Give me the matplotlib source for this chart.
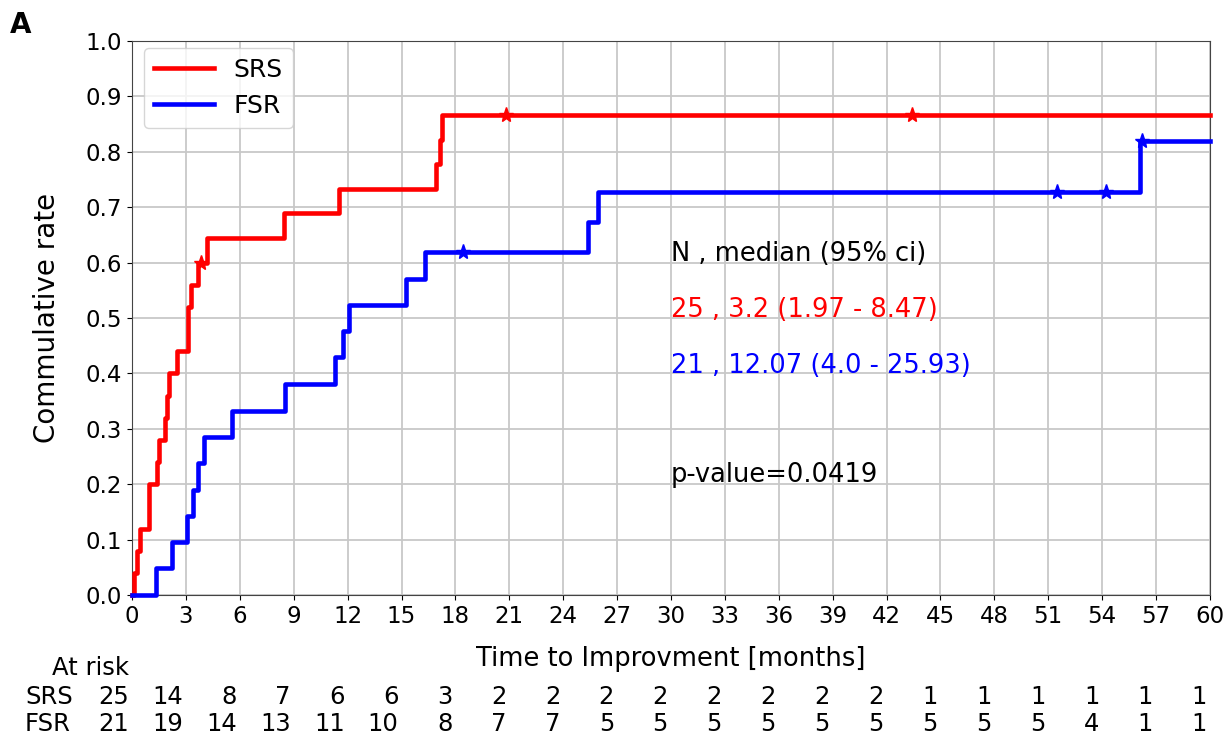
import matplotlib
matplotlib.use("Agg")
from matplotlib import pyplot as plt
from matplotlib import transforms

# Kaplan-Meier style cumulative curves (step, post)
srs_time = [0, 0.11, 0.26, 0.43, 0.93, 1.40, 1.51, 1.82, 1.97, 2.07, 2.48,
            3.1, 3.3, 3.65, 4.15, 8.47, 11.5, 16.9, 17.14, 17.27, 60]
srs_rate = [0, 0.04, 0.08, 0.12, 0.20, 0.24, 0.28, 0.32, 0.36, 0.40, 0.44,
            0.52, 0.56, 0.60, 0.644, 0.689, 0.733, 0.778, 0.822, 0.867, 0.867]
srs_cens_time = [3.84, 20.8, 43.4]
srs_cens_rate = [0.60, 0.867, 0.867]

fsr_time = [0, 1.36, 2.2, 3.04, 3.41, 3.65, 4.0, 5.59, 8.5, 11.3, 11.74,
            12.07, 15.23, 16.3, 25.4, 25.93, 56.1, 60]
fsr_rate = [0, 0.048, 0.095, 0.143, 0.190, 0.238, 0.286, 0.333, 0.381, 0.429,
            0.476, 0.524, 0.571, 0.619, 0.673, 0.728, 0.819, 0.819]
fsr_cens_time = [18.44, 51.5, 54.2, 56.2]
fsr_cens_rate = [0.619, 0.728, 0.728, 0.819]

risk_ticks = list(range(0, 61, 3))
srs_at_risk = [25, 14, 8, 7, 6, 6, 3, 2, 2, 2, 2, 2, 2, 2, 2, 1, 1, 1, 1, 1, 1]
fsr_at_risk = [21, 19, 14, 13, 11, 10, 8, 7, 7, 5, 5, 5, 5, 5, 5, 5, 5, 5, 4, 1, 1]

stats_lines = [("N , median (95% ci)", "black", 0.616),
               ("25 , 3.2 (1.97 - 8.47)", "red", 0.514),
               ("21 , 12.07 (4.0 - 25.93)", "blue", 0.413),
               ("p-value=0.0419", "black", 0.217)]

fig = plt.figure(figsize=(12.3, 7.37), dpi=100)
ax = fig.add_axes([132 / 1230, 1 - 595 / 737, 1078 / 1230, 554 / 737])

ax.step(srs_time, srs_rate, where="post", color="red", lw=3.3, label="SRS", clip_on=False, zorder=3)
ax.step(fsr_time, fsr_rate, where="post", color="blue", lw=3.3, label="FSR", clip_on=False, zorder=3)
ax.plot(srs_cens_time, srs_cens_rate, ls="none", marker="*", ms=11, color="red", zorder=4)
ax.plot(fsr_cens_time, fsr_cens_rate, ls="none", marker="*", ms=11, color="blue", zorder=4)

ax.set_xlim(0, 60)
ax.set_ylim(0, 1.0)
ax.set_xticks(risk_ticks)
ax.set_yticks([i / 10 for i in range(11)])
ax.set_yticklabels([f"{i / 10:.1f}" for i in range(11)])
ax.tick_params(labelsize=16.5)
ax.grid(True, color="#c8c8c8", lw=1.3)
ax.set_axisbelow(True)
for s in ax.spines.values():
    s.set_color("#444444")

ax.set_ylabel("Commulative rate", fontsize=20, labelpad=18)
ax.set_xlabel("Time to Improvment [months]", fontsize=18.5, labelpad=13)
ax.legend(loc="upper left", fontsize=18, handlelength=2.4, borderaxespad=0,
          bbox_to_anchor=(0.011, 0.988))

for txt, col, yv in stats_lines:
    ax.text(30, yv, txt, color=col, fontsize=18.5, va="center", ha="left")

# at-risk table
trans = transforms.blended_transform_factory(ax.transData, fig.transFigure)
trans = transforms.offset_copy(trans, fig=fig, x=-3, y=0, units="dots")
rows_y = [1 - 697 / 737, 1 - 724 / 737]
ax.text(0, 1 - 668 / 737, "At risk", transform=trans, ha="right", va="center", fontsize=17.5, clip_on=False)
fig.text(25 / 1230, rows_y[0], "SRS", ha="left", va="center", fontsize=17.5)
fig.text(25 / 1230, rows_y[1], "FSR", ha="left", va="center", fontsize=17.5)
for t, a, b in zip(risk_ticks, srs_at_risk, fsr_at_risk):
    ax.text(t, rows_y[0], str(a), transform=trans, ha="right", va="center", fontsize=17.5, clip_on=False)
    ax.text(t, rows_y[1], str(b), transform=trans, ha="right", va="center", fontsize=17.5, clip_on=False)

fig.text(10 / 1230, 1 - 25 / 737, "A", fontsize=20, fontweight="bold", va="center", ha="left")

fig.savefig("out.png", dpi=100)
